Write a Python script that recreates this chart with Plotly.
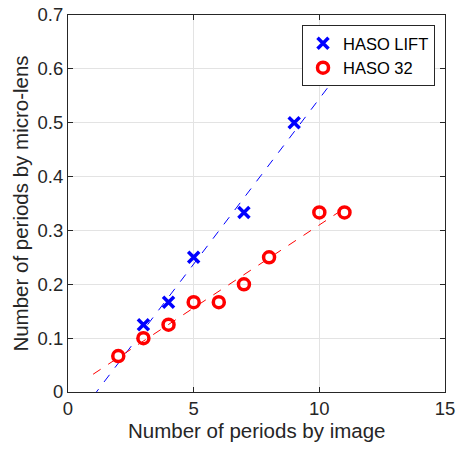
import plotly.graph_objects as go

# Data
lift_x = [3, 4, 5, 7, 9]
lift_y = [0.125, 0.1667, 0.25, 0.3333, 0.5]
h32_x = [2, 3, 4, 5, 6, 7, 8, 10, 11]
h32_y = [0.0667, 0.1, 0.125, 0.1667, 0.1667, 0.2, 0.25, 0.3333, 0.3333]

# linear fit lines
lift_fit_x = [1, 11]
lift_fit_y = [-0.008, 0.606]
h32_fit_x = [1, 11]
h32_fit_y = [0.033, 0.341]

x_ticks = [0, 5, 10, 15]
y_ticks = [0, 0.1, 0.2, 0.3, 0.4, 0.5, 0.6, 0.7]
y_labels = ["0", "0.1", "0.2", "0.3", "0.4", "0.5", "0.6", "0.7"]

axis_col = "#262626"
font = "Liberation Sans, Arial, sans-serif"

fig = go.Figure()

fig.add_trace(go.Scatter(
    x=lift_fit_x, y=lift_fit_y, mode="lines",
    line=dict(color="blue", width=1, dash="dash"), showlegend=False
))
fig.add_trace(go.Scatter(
    x=h32_fit_x, y=h32_fit_y, mode="lines",
    line=dict(color="red", width=1, dash="dash"), showlegend=False
))
fig.add_trace(go.Scatter(
    x=lift_x, y=lift_y, mode="markers", name="HASO LIFT",
    marker=dict(symbol="x-thin-open", size=11, color="blue",
                line=dict(color="blue", width=3.5))
))
fig.add_trace(go.Scatter(
    x=h32_x, y=h32_y, mode="markers", name="HASO 32",
    marker=dict(symbol="circle-open", size=11, color="red",
                line=dict(color="red", width=3.5))
))

axis_common = dict(
    showline=True, linecolor=axis_col, linewidth=1, mirror="ticks",
    ticks="inside", ticklen=5, tickcolor=axis_col,
    showgrid=True, gridcolor="#e3e3e3", gridwidth=1,
    zeroline=False, automargin=False, ticklabeloverflow="allow",
    tickfont=dict(size=18.5, color=axis_col, family=font),
)

fig.update_layout(
    width=456, height=450,
    margin=dict(l=68, r=11, t=15, b=58),
    plot_bgcolor="white", paper_bgcolor="white",
    font=dict(family=font, color=axis_col),
    xaxis=dict(range=[0, 15], tickvals=x_ticks, **axis_common),
    yaxis=dict(range=[0, 0.7], tickvals=y_ticks, ticktext=y_labels, **axis_common),
    legend=dict(x=0.9735, y=0.9735, xanchor="right", yanchor="top",
                bgcolor="white", bordercolor=axis_col, borderwidth=1,
                font=dict(size=16.5, color="black"), itemwidth=30,
                tracegroupgap=0),
)

# axis titles
fig.add_annotation(text="Number of periods by image", xref="paper", yref="paper",
                   x=0.5, y=-0.101, xanchor="center", yanchor="middle",
                   showarrow=False, font=dict(size=20.5, color=axis_col))
fig.add_annotation(text="Number of periods by micro-lens", xref="paper", yref="paper",
                   x=-0.127, y=0.5, xanchor="center", yanchor="middle", textangle=-90,
                   showarrow=False, font=dict(size=20.5, color=axis_col))

# drop the default 8px body margin so the figure fills the window
fig.write_html("out.html", config={"displayModeBar": False},
               post_script="document.body.style.margin='0';")
